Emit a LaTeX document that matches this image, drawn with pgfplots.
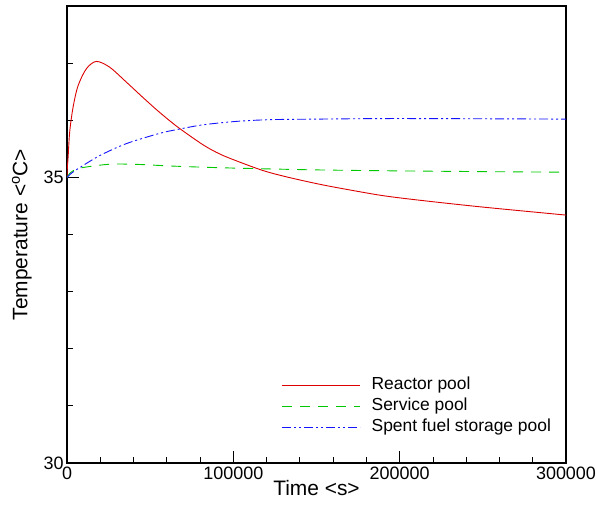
\documentclass[border=0pt]{standalone}
\usepackage{fontspec}
\setmainfont{Liberation Sans}
\usepackage{pgfplots}
\pgfplotsset{compat=1.18}
\definecolor{rpool}{RGB}{220,0,0}
\definecolor{spool}{RGB}{0,200,0}
\definecolor{fpool}{RGB}{20,20,255}
\begin{document}
\begin{tikzpicture}
\begin{axis}[
  name=ax,
  scale only axis,
  width=499bp, height=457bp,
  xmin=0, xmax=300000, ymin=30, ymax=38,
  xtick={0,100000,200000,300000},
  minor x tick num=4,
  ytick={30,35},
  minor ytick={31,32,33,34,36,37},
  scaled x ticks=false,
  xticklabel style={/pgf/number format/fixed, /pgf/number format/1000 sep={}},
  /pgf/number format/assume math mode=true,
  tick align=inside,
  xtick pos=bottom, ytick pos=left,
  major tick length=12bp, minor tick length=6bp,
  every major tick/.style={black, line width=1.2bp},
  every minor tick/.style={black, line width=0.8bp},
  axis line style={line width=1.5bp},
  tick label style={font=\fontsize{18}{20}\selectfont},
  label style={font=\fontsize{21}{24}\selectfont},
  xlabel={Time <s>},
  ylabel={Temperature <$^{\mathrm{o}}$C>},
  xlabel style={yshift=6bp},
  ylabel style={yshift=5bp},
  legend style={draw=none, fill=none, at={(0.424,0.198)}, anchor=north west,
    font=\fontsize{17.5}{19}\selectfont,
    nodes={text height=12.5bp, text depth=4bp, inner ysep=2.25bp}},
  legend cell align=left,
  legend image code/.code={\draw[#1] (0bp,0bp) -- (78bp,0bp); \path (87bp,0bp);},
]
\addplot[rpool, line width=0.9bp, smooth] coordinates {
(0,35.0) (250,35.2) (600,35.32) (1600,35.79) (3600,36.22) (6600,36.60)
(11600,36.90) (17600,37.03) (25600,36.93) (35600,36.67) (45600,36.40)
(55600,36.14) (66600,35.88) (81800,35.57) (91800,35.41) (101800,35.29)
(117800,35.12) (131800,35.01) (151800,34.88) (170000,34.78) (190000,34.68)
(212000,34.60) (250000,34.48) (300000,34.34)
};
\addlegendentry{Reactor pool}
\addplot[spool, line width=0.9bp, dash pattern=on 10bp off 8bp, smooth] coordinates {
(0,35.0) (2000,35.08) (6000,35.15) (13600,35.19) (25600,35.23) (40000,35.23)
(61800,35.20) (80000,35.18) (104000,35.16) (151800,35.13) (212000,35.11)
(300000,35.09)
};
\addlegendentry{Service pool}
\addplot[fpool, line width=0.9bp, dash pattern=on 9bp off 3bp on 2bp off 3bp on 2bp off 3bp, smooth] coordinates {
(0,35.0) (3000,35.08) (7600,35.17) (19600,35.38) (35600,35.59) (55600,35.77)
(66600,35.84) (81800,35.92) (101800,35.98) (121800,36.01) (150000,36.02)
(200000,36.03) (300000,36.02)
};
\addlegendentry{Spent fuel storage pool}
\end{axis}
\pgfresetboundingbox
\path (ax.south west) ++(-67bp,-46bp) rectangle ++(596bp,509bp);
\end{tikzpicture}
\end{document}
